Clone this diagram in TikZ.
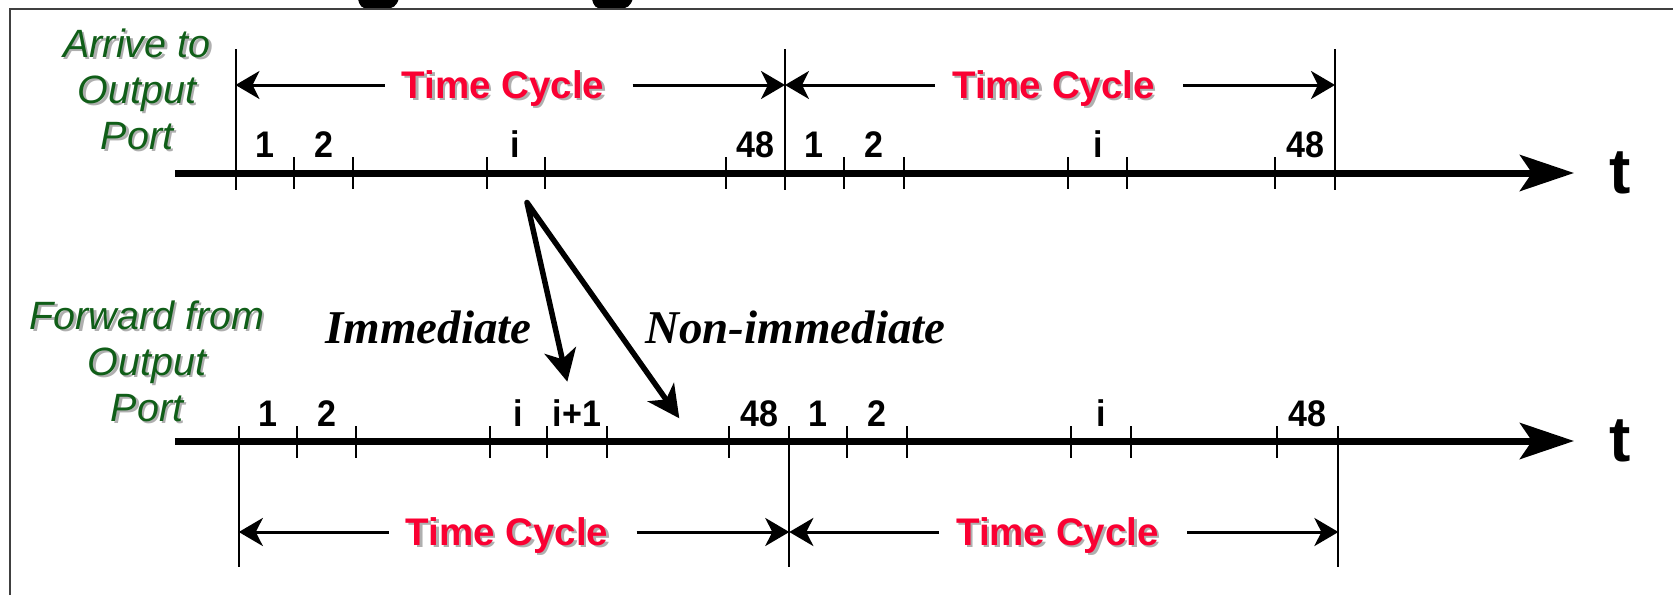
\documentclass[tikz,border=0pt]{standalone}
\usepackage{fontspec}
\setmainfont{Liberation Sans}
\newfontfamily\tnrfont{Liberation Serif}
\usetikzlibrary{arrows.meta,calc}
\definecolor{cycred}{RGB}{250,0,50}
\definecolor{portgreen}{RGB}{16,94,24}
\definecolor{shadowgray}{RGB}{175,175,175}
\definecolor{framegray}{RGB}{64,64,64}
\newcommand{\shadownode}[4]{%
  \node[#3, text=shadowgray] (#1s) at ($(#2)+(2.5,2.5)$) {#4};
  \node[#3] (#1) at (#2) {#4};}
\newcommand{\narrowtext}[1]{\scalebox{0.92}[1]{#1}}
\begin{document}
\begin{tikzpicture}[x=1pt,y=-1pt,
  axisline/.style={line width=7pt, -{Stealth[length=54pt,width=36pt,inset=12pt]}},
  tickline/.style={line width=2pt},
  cycarrow/.style={line width=3pt, -{Stealth[length=24pt,width=28pt,inset=7pt]}},
  flowarrow/.style={line width=5.5pt, line join=round, {Stealth[length=32pt,width=32pt,inset=9pt]}-{Stealth[length=32pt,width=32pt,inset=9pt]}},
  slotlabel/.style={font=\fontsize{37}{37}\selectfont\bfseries, anchor=base, inner sep=0pt},
  cyctext/.style={font=\fontsize{38.5}{38.5}\selectfont\bfseries, text=cycred, inner sep=0pt, text height=26pt, text depth=0pt},
  porttext/.style={font=\fontsize{39.5}{46}\selectfont\itshape, text=portgreen, anchor=base, inner sep=0pt},
  kindtext/.style={font=\tnrfont\fontsize{47}{47}\selectfont\bfseries\itshape, anchor=base, inner sep=0pt},
  tlabel/.style={font=\fontsize{64}{64}\selectfont\bfseries, anchor=base, inner sep=0pt},
]
\useasboundingbox (0,0) rectangle (1673,595);

% fragments of a title cut off above
\fill (358,-2) -- (399,-2) .. controls (397,6) and (393,9) .. (384,9) -- (370,9) .. controls (362,9) and (359,6) .. (358,-2) -- cycle;
\fill (592,-2) -- (633,-2) .. controls (631,6) and (627,9) .. (618,9) -- (604,9) .. controls (596,9) and (593,6) .. (592,-2) -- cycle;

% frame
\draw[framegray, line width=2pt] (10,595) -- (10,9) -- (1673,9);

% ---------- top axis ----------
\coordinate (ax1s) at (175,173);
\coordinate (ax1e) at (1574,173);
\draw[axisline] (ax1s) -- (ax1e);
\foreach \x in {294,352.7,487,544.5,726,844,903.6,1068,1127,1274.5}
  \draw[tickline] (\x,157) -- (\x,189);
\foreach \x in {235.5,785,1335}
  \draw[tickline] (\x,49) -- (\x,190);
\node[tlabel] (t1) at (1620,193) {t};

\node[slotlabel] (u1) at (265,157) {\narrowtext{1}};
\node[slotlabel] (u2) at (324,157) {\narrowtext{2}};
\node[slotlabel] (ui) at (515.7,157) {\narrowtext{i}};
\node[slotlabel] (u48) at (755.5,157) {\narrowtext{48}};
\node[slotlabel] (v1) at (813.5,157) {\narrowtext{1}};
\node[slotlabel] (v2) at (873.5,157) {\narrowtext{2}};
\node[slotlabel] (vi) at (1098,157) {\narrowtext{i}};
\node[slotlabel] (v48) at (1305,157) {\narrowtext{48}};

\coordinate (ca) at (235.5,85);
\coordinate (cb) at (785,85);
\coordinate (cc) at (1335,85);
\shadownode{tc1}{503,85}{cyctext}{Time Cycle}
\shadownode{tc2}{1053.5,85}{cyctext}{Time Cycle}
\draw[cycarrow] ([xshift=-17pt]tc1.west) -- (ca);
\draw[cycarrow] ([xshift=28pt]tc1.east) -- (cb);
\draw[cycarrow] ([xshift=-17pt]tc2.west) -- (cb);
\draw[cycarrow] ([xshift=28pt]tc2.east) -- (cc);

\shadownode{ar1}{137,57}{porttext}{Arrive to}
\shadownode{ar2}{137,103}{porttext}{Output}
\shadownode{ar3}{137,149}{porttext}{Port}

% ---------- bottom axis ----------
\coordinate (ax2s) at (175,441);
\coordinate (ax2e) at (1574,441);
\draw[axisline] (ax2s) -- (ax2e);
\foreach \x in {297,356,490,547.4,606.6,728.6,847.3,907,1071,1130.7,1276.6}
  \draw[tickline] (\x,426) -- (\x,458);
\foreach \x in {238.8,789.3,1338.4}
  \draw[tickline] (\x,426) -- (\x,567);
\node[tlabel] (t2) at (1620,461.5) {t};

\node[slotlabel] (w1) at (268,426) {\narrowtext{1}};
\node[slotlabel] (w2) at (326.5,426) {\narrowtext{2}};
\node[slotlabel] (wi) at (518.7,426) {\narrowtext{i}};
\node[slotlabel] (wi1) at (577,426) {\narrowtext{i+1}};
\node[slotlabel] (w48) at (759,426) {\narrowtext{48}};
\node[slotlabel] (x1) at (818.3,426) {\narrowtext{1}};
\node[slotlabel] (x2) at (877.2,426) {\narrowtext{2}};
\node[slotlabel] (xi) at (1101,426) {\narrowtext{i}};
\node[slotlabel] (x48) at (1307.5,426) {\narrowtext{48}};

\coordinate (da) at (238.8,532);
\coordinate (db) at (789.3,532);
\coordinate (dc) at (1338.4,532);
\shadownode{tc3}{507,532}{cyctext}{Time Cycle}
\shadownode{tc4}{1057.5,532}{cyctext}{Time Cycle}
\draw[cycarrow] ([xshift=-17pt]tc3.west) -- (da);
\draw[cycarrow] ([xshift=28pt]tc3.east) -- (db);
\draw[cycarrow] ([xshift=-17pt]tc4.west) -- (db);
\draw[cycarrow] ([xshift=28pt]tc4.east) -- (dc);

\shadownode{fw1}{147,329}{porttext}{Forward from}
\shadownode{fw2}{147,375}{porttext}{Output}
\shadownode{fw3}{147,421}{porttext}{Port}

% ---------- forwarding arrows ----------
\coordinate (src) at (527,202.5);
\coordinate (immend) at (567.3,381.7);
\coordinate (nonend) at (679.3,418.3);
\draw[flowarrow] (immend) -- (src) -- (nonend);
\node[kindtext] (imm) at (428.7,343) {Immediate};
\node[kindtext] (non) at (795.5,343) {Non-immediate};
\end{tikzpicture}
\end{document}
